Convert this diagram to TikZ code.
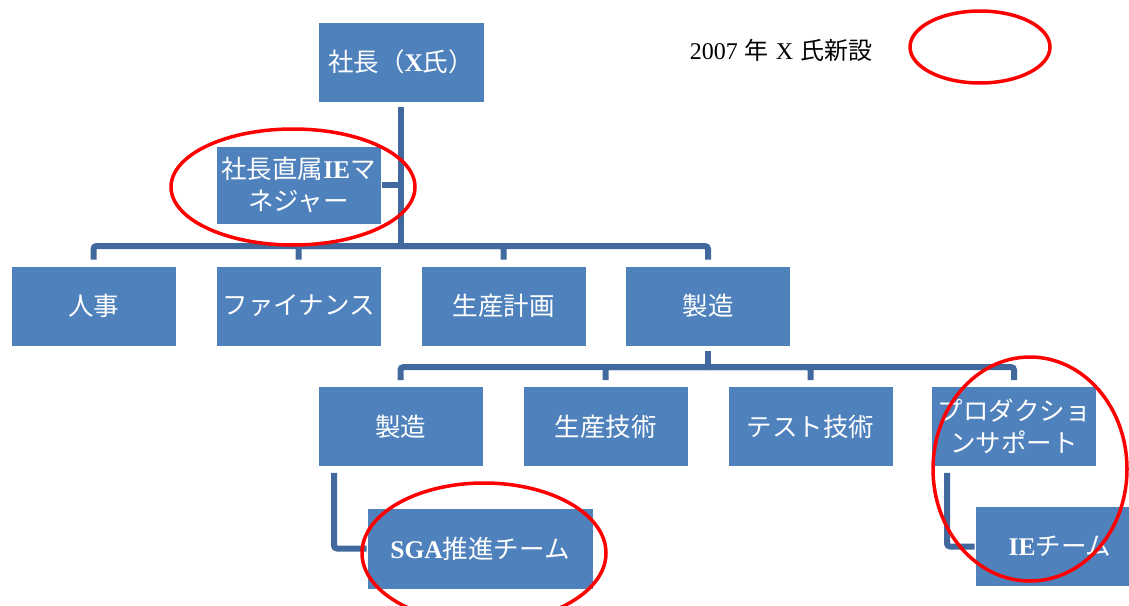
\documentclass[tikz,border=0pt]{standalone}
\usepackage{fontspec}
\setmainfont{Liberation Serif}
\newfontfamily\jp{Noto Sans CJK JP}
\newcommand\latb[1]{{\rmfamily\bfseries #1}}
\newcommand\latr[1]{{\rmfamily #1}}
\definecolor{boxblue}{RGB}{79,129,189}
\definecolor{connblue}{RGB}{65,105,158}
\pgfdeclarelayer{background}
\pgfsetlayers{background,main}
\tikzset{
  orgbox/.style={rectangle, fill=boxblue, draw=white, line width=0.6pt, text=white,
    font=\jp\fontsize{25.5}{32}\selectfont, align=center, inner sep=0pt},
  conn/.style={draw=connblue, line width=6pt, rounded corners=3pt},
  redell/.style={draw=red, line width=3.5pt},
}
\begin{document}
\begin{tikzpicture}[x=1pt,y=-1pt]
\useasboundingbox (0,0) rectangle (1129,605);
% nodes
\node[orgbox, minimum width=166, minimum height=80] (top) at (401,62) {社長（\latb{X}氏）};
\node[orgbox, minimum width=165, minimum height=78] (iemgr) at (298.5,185) {社長直属\latb{IE}マ\\ネジャー};
\node[orgbox, minimum width=165, minimum height=80] (ren) at (93.5,306) {人事};
\node[orgbox, minimum width=165, minimum height=80] (fin) at (298.5,306) {ファイナンス};
\node[orgbox, minimum width=165, minimum height=80] (plan) at (503.5,306) {生産計画};
\node[orgbox, minimum width=165, minimum height=80] (mfg) at (708,306) {製造};
\node[orgbox, minimum width=165, minimum height=80] (mfg2) at (400.5,426.5) {製造};
\node[orgbox, minimum width=165, minimum height=80] (pe) at (605.5,426.5) {生産技術};
\node[orgbox, minimum width=165, minimum height=80] (te) at (810.5,426.5) {テスト技術};
\node[orgbox, minimum width=165, minimum height=80] (ps) at (1014,426.5) {プロダクショ\\ンサポート};
\node[orgbox, minimum width=226, minimum height=81] (sga) at (480,548.5) {\latb{SGA}推進チーム};
\node[orgbox, minimum width=170, minimum height=80] (iet) at (1060,546.5) {\latb{IE}チーム};
\node[text=black, font=\jp\fontsize{24}{28}\selectfont, inner sep=0pt] (legend) at (781,50)
  {\latr{2007}\hspace{7pt}年\hspace{7pt}\latr{X}\hspace{7pt}氏新設};
% connectors
\coordinate (b1) at (401,246);
\coordinate (b2) at (708,367);
\begin{pgfonlayer}{background}
\draw[conn] ([yshift=-5]top.south) -- (b1);
\draw[conn] (iemgr.east) -- (iemgr.east -| b1);
\foreach \c in {ren,fin,plan,mfg} { \draw[conn] ([yshift=6]\c.north) |- (b1); }
\draw[conn] ([yshift=-5]mfg.south) -- (b2);
\foreach \c in {mfg2,pe,te,ps} { \draw[conn] ([yshift=6]\c.north) |- (b2); }
\draw[conn] ([xshift=-66.5,yshift=-6]mfg2.south) |- (sga.west);
\draw[conn] ([xshift=-67,yshift=-6]ps.south) |- (iet.west);
\end{pgfonlayer}
% red ellipses
\draw[redell] (293,187) ellipse [x radius=122pt, y radius=58pt];
\draw[redell] (484,553) ellipse [x radius=122pt, y radius=70pt];
\draw[redell] (1030,469) ellipse [x radius=97pt, y radius=112pt];
\draw[redell] (980,47) ellipse [x radius=70pt, y radius=36pt];
\end{tikzpicture}
\end{document}
